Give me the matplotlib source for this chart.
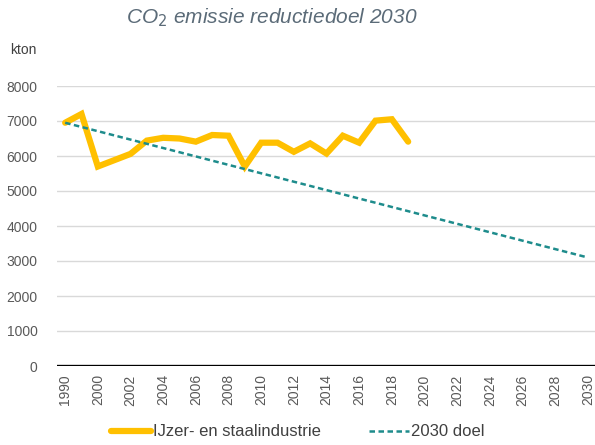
import matplotlib.pyplot as plt
import numpy as np

plt.rcParams['font.family'] = ['Liberation Sans', 'DejaVu Sans']

# categorieen op de x-as (1995 staat er wel in maar krijgt geen label)
jaren = [1990, 1995] + list(range(2000, 2031))

ijzer_staal = [6950, 7200, 5700, 5880, 6060, 6440, 6520, 6500, 6410, 6600,
               6580, 5700, 6380, 6380, 6120, 6360, 6070, 6580, 6380, 7010,
               7050, 6410]

doel_jaren = [1990, 2030]
doel = [6950, 3100]

geel = '#FFC000'
teal = '#1E8C8C'
grijs = '#595959'

fig = plt.figure(figsize=(5.95, 4.45), dpi=100)
ax = fig.add_axes([57 / 595, 79 / 445, 539 / 595, 280 / 445])

x_ijzer = np.arange(len(ijzer_staal))
x_doel = [jaren.index(j) for j in doel_jaren]

ax.plot(x_ijzer, ijzer_staal, color=geel, lw=4.5, solid_joinstyle='miter',
        solid_capstyle='round', label='IJzer- en staalindustrie', zorder=3)
ax.plot(x_doel, doel, color=teal, lw=1.8, dashes=(2.2, 1.4),
        label='2030 doel', zorder=3)

ax.set_xlim(-0.5, len(jaren) - 0.5)
ax.set_ylim(0, 8000)
ax.set_yticks(range(0, 8001, 1000))
ax.grid(axis='y', color='#d9d9d9', lw=1)
ax.set_axisbelow(True)
ax.axhline(0, color='black', lw=2.4, zorder=4)

for s in ax.spines.values():
    s.set_visible(False)

posities = list(range(0, len(jaren), 2))
ax.set_xticks(posities)
ax.set_xticklabels([str(jaren[i]) for i in posities], rotation=90)
ax.tick_params(axis='both', length=0, labelsize=10, labelcolor=grijs)
ax.tick_params(axis='x', pad=6)
ax.tick_params(axis='y', pad=14)

fig.text(272 / 595, 1 - 18 / 445, r'CO$_2$ emissie reductiedoel 2030',
         ha='center', va='center', fontsize=15, style='italic',
         color='#5b6b78')
fig.text(10 / 595, 1 - 50 / 445, 'kton', ha='left', va='center',
         fontsize=10, color='#404040')

fig.legend(loc='center', bbox_to_anchor=(298 / 595, 1 - 432 / 445), ncol=2,
           frameon=False, fontsize=12, handlelength=2.4, handletextpad=0.1,
           columnspacing=2.9, labelcolor='#404040')

fig.savefig('out.png', dpi=100)
